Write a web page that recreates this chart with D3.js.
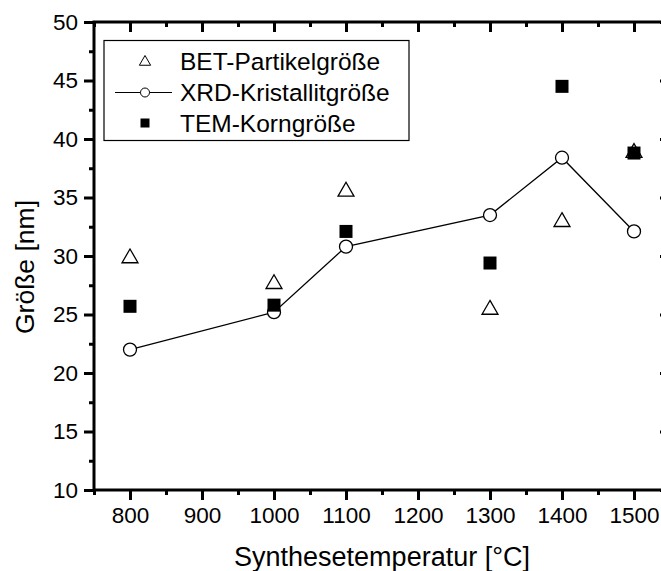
<!DOCTYPE html>
<html>
<head>
<meta charset="utf-8">
<script src="https://cdn.jsdelivr.net/npm/d3@7"></script>
<style>
  body { margin: 0; background: #fff; }
  text { font-family: "Liberation Sans", Arial, sans-serif; fill: #000; }
</style>
</head>
<body>
<div id="chart"></div>
<script>
// data
var temperatures = [800, 1000, 1100, 1300, 1400, 1500];
var betSize = [29.9, 27.7, 35.6, 25.5, 33.0, 38.9];
var xrdSize = [22.0, 25.2, 30.8, 33.5, 38.4, 32.1];
var temSize = [25.7, 25.8, 32.1, 29.4, 44.5, 38.8];
var xTicks = [800, 900, 1000, 1100, 1200, 1300, 1400, 1500];
var yTicks = [10, 15, 20, 25, 30, 35, 40, 45, 50];
var legendLabels = ["BET-Partikelgröße", "XRD-Kristallitgröße", "TEM-Korngröße"];

function drawChart() {
    var w = 661, h = 571;
    var left = 94, right = 670, top = 22, bottom = 490;

    var svg = d3.select("#chart").append("svg")
        .attr("width", w)
        .attr("height", h);

    var xScale = d3.scaleLinear().domain([750, 1550]).range([left, right]);
    var yScale = d3.scaleLinear().domain([10, 50]).range([bottom, top]);

    var xMinor = d3.range(750, 1551, 50).filter(v => v % 100 !== 0);
    var yMinor = d3.range(12.5, 50, 5);

    // --- Axes ---
    function styleAxis(g) {
        g.select(".domain").remove();
        g.selectAll("line").attr("stroke", "#000").attr("stroke-width", 3);
        g.selectAll("text").style("font-size", "22.5px").style("font-family", "Liberation Sans, Arial, sans-serif");
    }

    // bottom: outward ticks with labels
    svg.append("g")
        .attr("transform", `translate(0,${bottom})`)
        .call(d3.axisBottom(xScale).tickValues(xTicks).tickSize(10).tickPadding(7).tickFormat(d3.format("d")))
        .call(styleAxis);
    svg.append("g")
        .attr("transform", `translate(0,${bottom})`)
        .call(d3.axisBottom(xScale).tickValues(xMinor).tickSize(5).tickFormat(""))
        .call(styleAxis);

    // top: inward ticks
    svg.append("g")
        .attr("transform", `translate(0,${top})`)
        .call(d3.axisBottom(xScale).tickValues(xTicks).tickSize(10).tickFormat(""))
        .call(styleAxis);
    svg.append("g")
        .attr("transform", `translate(0,${top})`)
        .call(d3.axisBottom(xScale).tickValues(xMinor).tickSize(5).tickFormat(""))
        .call(styleAxis);

    // left: outward ticks with labels
    svg.append("g")
        .attr("transform", `translate(${left},0)`)
        .call(d3.axisLeft(yScale).tickValues(yTicks).tickSize(10).tickPadding(6))
        .call(styleAxis);
    svg.append("g")
        .attr("transform", `translate(${left},0)`)
        .call(d3.axisLeft(yScale).tickValues(yMinor).tickSize(5).tickFormat(""))
        .call(styleAxis);

    // right: inward ticks
    svg.append("g")
        .attr("transform", `translate(${right},0)`)
        .call(d3.axisLeft(yScale).tickValues(yTicks).tickSize(10).tickFormat(""))
        .call(styleAxis);
    svg.append("g")
        .attr("transform", `translate(${right},0)`)
        .call(d3.axisLeft(yScale).tickValues(yMinor).tickSize(5).tickFormat(""))
        .call(styleAxis);

    // frame
    svg.append("rect")
        .attr("x", left)
        .attr("y", top)
        .attr("width", right - left)
        .attr("height", bottom - top)
        .attr("fill", "none")
        .attr("stroke", "#000")
        .attr("stroke-width", 3);

    // axis titles
    svg.append("text")
        .attr("x", 382)
        .attr("y", 566)
        .attr("text-anchor", "middle")
        .style("font-size", "27px")
        .text("Synthesetemperatur [°C]");

    svg.append("text")
        .attr("transform", "translate(34,267) rotate(-90)")
        .attr("text-anchor", "middle")
        .style("font-size", "26.5px")
        .text("Größe [nm]");

    var tri = d3.symbol().type(d3.symbolTriangle);

    // --- BET triangles ---
    svg.append("g")
        .selectAll("path")
        .data(temperatures.map((t, i) => [t, betSize[i]]))
        .enter().append("path")
        .attr("d", tri.size(110)())
        .attr("transform", d => `translate(${xScale(d[0])},${yScale(d[1]) + 1})`)
        .attr("fill", "#fff")
        .attr("stroke", "#000")
        .attr("stroke-width", 1.3);

    // --- XRD line + circles ---
    var xrdData = temperatures.map((t, i) => [t, xrdSize[i]]);
    svg.append("path")
        .datum(xrdData)
        .attr("d", d3.line().x(d => xScale(d[0])).y(d => yScale(d[1])))
        .attr("fill", "none")
        .attr("stroke", "#000")
        .attr("stroke-width", 1.3);

    svg.append("g")
        .selectAll("circle")
        .data(xrdData)
        .enter().append("circle")
        .attr("cx", d => xScale(d[0]))
        .attr("cy", d => yScale(d[1]))
        .attr("r", 6.5)
        .attr("fill", "#fff")
        .attr("stroke", "#000")
        .attr("stroke-width", 1.3);

    // --- TEM squares ---
    svg.append("g")
        .selectAll("rect")
        .data(temperatures.map((t, i) => [t, temSize[i]]))
        .enter().append("rect")
        .attr("x", d => xScale(d[0]) - 6.5)
        .attr("y", d => yScale(d[1]) - 6.5)
        .attr("width", 13)
        .attr("height", 13)
        .attr("fill", "#000");

    // --- Legend ---
    var legend = svg.append("g");
    legend.append("rect")
        .attr("x", 104)
        .attr("y", 40.5)
        .attr("width", 305)
        .attr("height", 100)
        .attr("fill", "#fff")
        .attr("stroke", "#000")
        .attr("stroke-width", 1.2);

    var rowY = [61, 92.5, 123];
    var symX = 145;

    legend.append("path")
        .attr("d", tri.size(55)())
        .attr("transform", `translate(${symX},${rowY[0] + 1})`)
        .attr("fill", "#fff")
        .attr("stroke", "#000")
        .attr("stroke-width", 1);

    legend.append("line")
        .attr("x1", 115).attr("x2", 172)
        .attr("y1", rowY[1]).attr("y2", rowY[1])
        .attr("stroke", "#000")
        .attr("stroke-width", 1.2);
    legend.append("circle")
        .attr("cx", symX).attr("cy", rowY[1])
        .attr("r", 4.5)
        .attr("fill", "#fff")
        .attr("stroke", "#000")
        .attr("stroke-width", 1);

    legend.append("rect")
        .attr("x", symX - 4.5).attr("y", rowY[2] - 4.5)
        .attr("width", 9).attr("height", 9)
        .attr("fill", "#000");

    legend.selectAll(".legend-label")
        .data(legendLabels)
        .enter().append("text")
        .attr("class", "legend-label")
        .attr("x", 180)
        .attr("y", (d, i) => rowY[i])
        .attr("dy", "0.36em")
        .style("font-size", "24.5px")
        .text(d => d);
}

drawChart();
</script>
</body>
</html>
